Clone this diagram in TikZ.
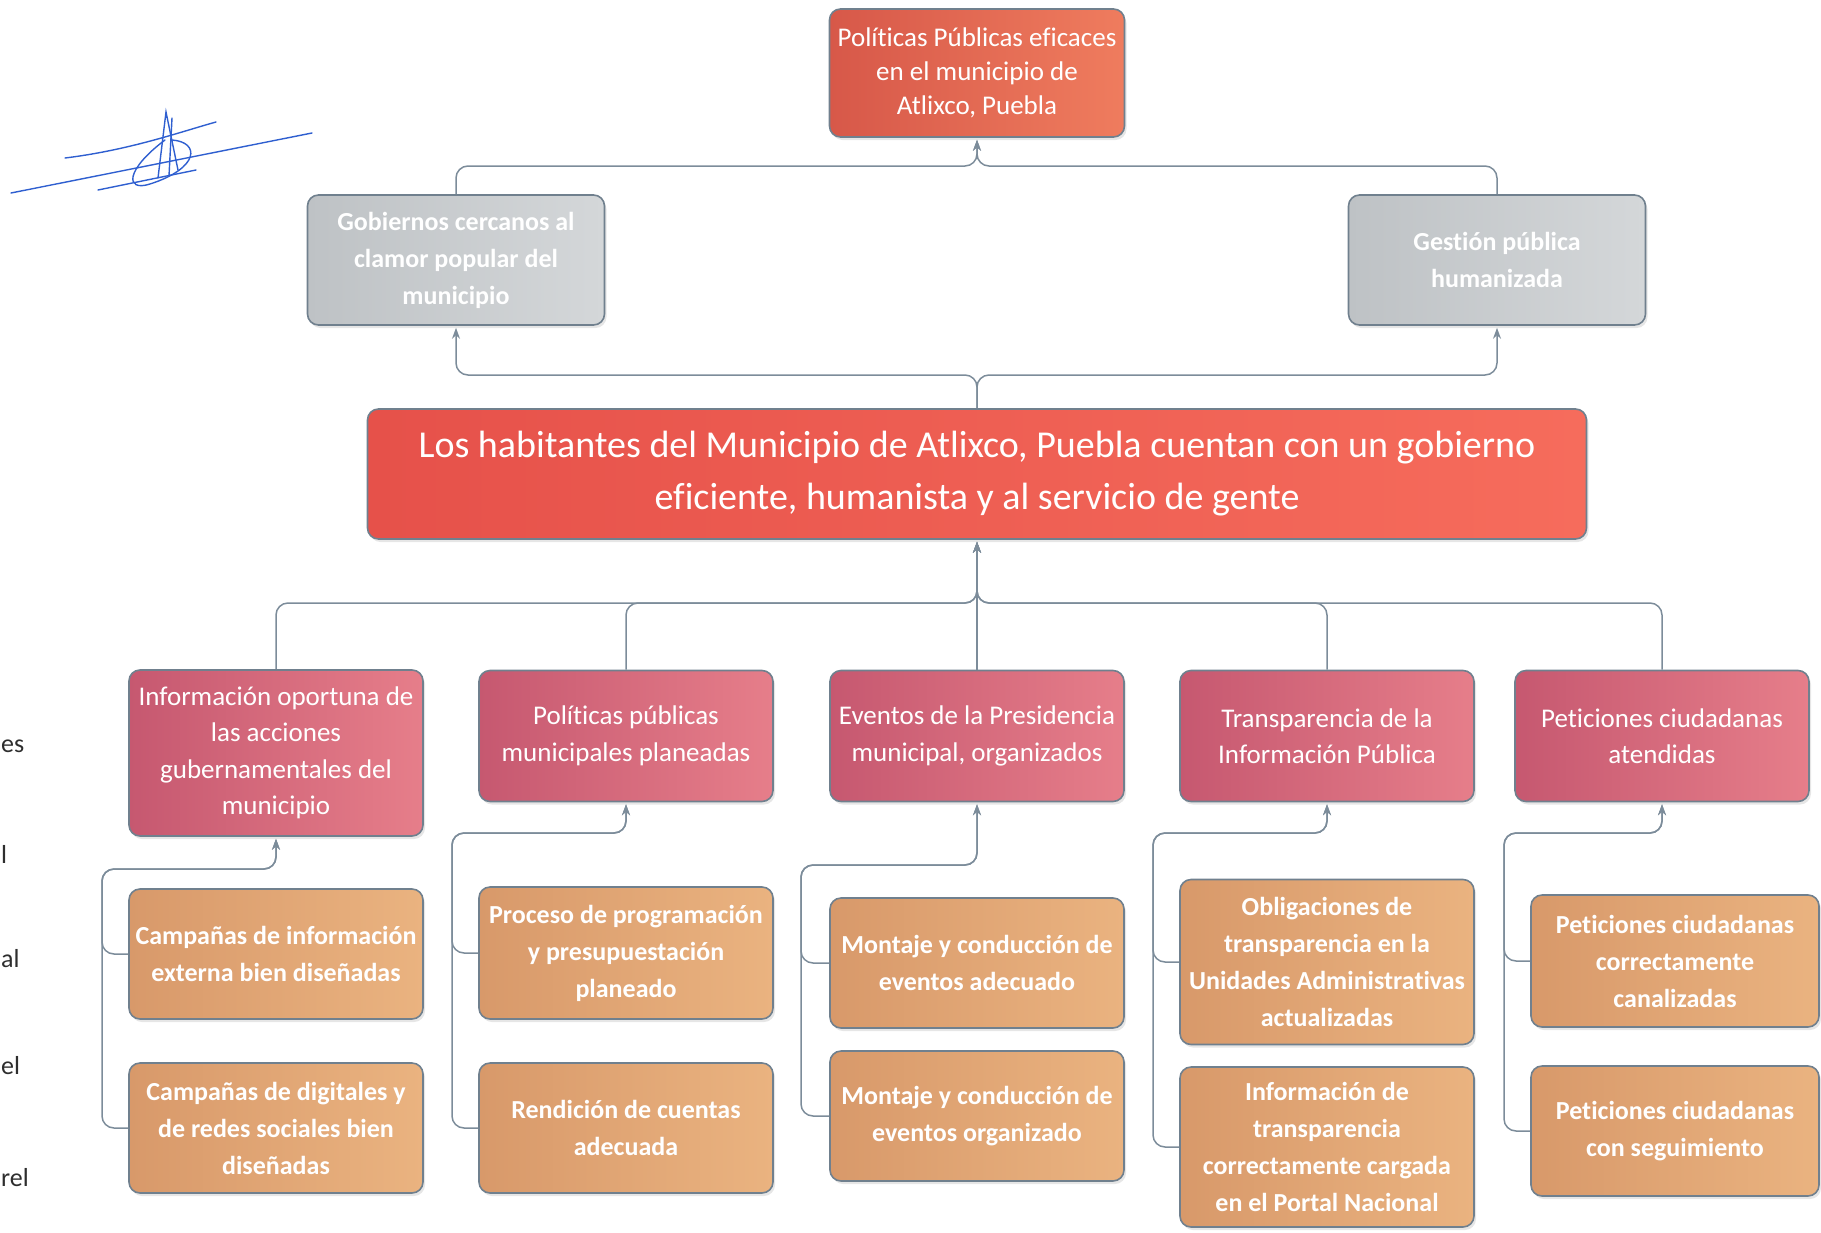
\documentclass[tikz,border=0pt]{standalone}
\usepackage{fontspec}
\setmainfont{Carlito}[Ligatures=NoCommon]
\usepackage{tikz}
\usetikzlibrary{shapes,arrows,arrows.meta,positioning,shadows,calc}

\definecolor{boxedge}{HTML}{70808E}
\definecolor{lineblue}{HTML}{7C8C9A}
\definecolor{topl}{HTML}{D75849}
\definecolor{topr}{HTML}{EF7C5E}
\definecolor{grayl}{HTML}{BEC2C5}
\definecolor{grayr}{HTML}{D4D7D9}
\definecolor{mainl}{HTML}{E6514A}
\definecolor{mainr}{HTML}{F66C5C}
\definecolor{pinkl}{HTML}{C65870}
\definecolor{pinkr}{HTML}{E67E8A}
\definecolor{tanl}{HTML}{D8996A}
\definecolor{tanr}{HTML}{EAB380}
\definecolor{sigblue}{HTML}{2F5FD0}
\definecolor{margintext}{HTML}{2E2E2E}

\begin{document}
\begin{tikzpicture}[
			x=1pt, y=-1pt,
			box/.style={rectangle, draw=boxedge, line width=1.6pt, rounded corners=11pt, align=center, text=white, inner sep=2pt, drop shadow={shadow xshift=2pt, shadow yshift=-3pt, opacity=0.2}},
			finbox/.style={box, left color=topl, right color=topr, minimum width=295pt, minimum height=128pt, font=\fontsize{27}{34}\selectfont},
			effectbox/.style={box, left color=grayl, right color=grayr, minimum width=297pt, minimum height=130pt, font=\bfseries\fontsize{26}{37}\selectfont},
			purposebox/.style={box, left color=mainl, right color=mainr, minimum width=1219pt, minimum height=130pt, font=\fontsize{38}{52}\selectfont},
			compbox/.style={box, left color=pinkl, right color=pinkr, minimum width=294pt, minimum height=131pt, font=\fontsize{27}{36.5}\selectfont},
			actbox/.style={box, left color=tanl, right color=tanr, minimum width=294pt, minimum height=130pt, font=\bfseries\fontsize{26}{37}\selectfont},
			conn/.style={draw=lineblue, line width=1.5pt, rounded corners=12pt, -{Stealth[length=11pt,width=8pt]}, shorten >=2pt},
			margin/.style={inner sep=0pt, anchor=west, text=margintext, font=\fontsize{26}{32}\selectfont},
			sig/.style={draw=sigblue, line width=1.4pt, line cap=round}
			]
			
			\useasboundingbox (0,0) rectangle (1821,1232);
			
			% Fin
			\node[finbox] (fin) at (977,73) {Políticas Públicas eficaces\\en el municipio de\\Atlixco, Puebla};
			
			% Efectos
			\node[effectbox] (gob) at (456,260) {Gobiernos cercanos al\\clamor popular del\\municipio};
			\node[effectbox] (gest) at (1497,260) {Gestión pública\\humanizada};
			
			% Proposito
			\node[purposebox] (prop) at (977,474) {Los habitantes del Municipio de Atlixco, Puebla cuentan con un gobierno\\eficiente, humanista y al servicio de gente};
			
			% Componentes
			\node[compbox, minimum height=166pt] (comp1) at (276,753) {Información oportuna de\\las acciones\\gubernamentales del\\municipio};
			\node[compbox] (comp2) at (626,736) {Políticas públicas\\municipales planeadas};
			\node[compbox] (comp3) at (977,736) {Eventos de la Presidencia\\municipal, organizados};
			\node[compbox] (comp4) at (1327,736) {Transparencia de la\\Información Pública};
			\node[compbox] (comp5) at (1662,736) {Peticiones ciudadanas\\atendidas};
			
			% Actividades
			\node[actbox] (act1a) at (276,954) {Campañas de información\\externa bien diseñadas};
			\node[actbox] (act1b) at (276,1128) {Campañas de digitales y\\de redes sociales bien\\diseñadas};
			\node[actbox, minimum height=132pt] (act2a) at (626,953) {Proceso de programación\\y presupuestación\\planeado};
			\node[actbox] (act2b) at (626,1128) {Rendición de cuentas\\adecuada};
			\node[actbox] (act3a) at (977,963) {Montaje y conducción de\\eventos adecuado};
			\node[actbox] (act3b) at (977,1116) {Montaje y conducción de\\eventos organizado};
			\node[actbox, minimum height=165pt] (act4a) at (1327,962) {Obligaciones de\\transparencia en la\\Unidades Administrativas\\actualizadas};
			\node[actbox, minimum height=160pt] (act4b) at (1327,1147) {Información de\\transparencia\\correctamente cargada\\en el Portal Nacional};
			\node[actbox, minimum width=288pt, minimum height=132pt] (act5a) at (1675,961) {Peticiones ciudadanas\\correctamente\\canalizadas};
			\node[actbox, minimum width=288pt] (act5b) at (1675,1131) {Peticiones ciudadanas\\con seguimiento};
			
			% Junctions
			\coordinate (jfin) at (977,166);
			\coordinate (jprop) at (977,375);
			\coordinate (jcomp) at (977,603);
			\coordinate (k1) at (102,869);
			\coordinate (k2) at (452,833);
			\coordinate (k3) at (801,865);
			\coordinate (k4) at (1153,833);
			\coordinate (k5) at (1504,833);
			
			% Efectos -> fin
			\draw[conn] (gob.north) |- (jfin) -- (fin.south);
			\draw[conn] (gest.north) |- (jfin) -- (fin.south);
			
			% Proposito -> efectos
			\draw[conn] (prop.north) -- (jprop) -| (gob.south);
			\draw[conn] (prop.north) -- (jprop) -| (gest.south);
			
			% Componentes -> proposito
			\draw[conn] (comp1.north) |- (jcomp) -- (prop.south);
			\draw[conn] (comp2.north) |- (jcomp) -- (prop.south);
			\draw[conn] (comp3.north) -- (prop.south);
			\draw[conn] (comp4.north) |- (jcomp) -- (prop.south);
			\draw[conn] (comp5.north) |- (jcomp) -- (prop.south);
			
			% Actividades -> componentes
			\draw[conn] (act1a.west) -| (k1) -| (comp1.south);
			\draw[conn] (act1b.west) -| (k1) -| (comp1.south);
			\draw[conn] (act2a.west) -| (k2) -| (comp2.south);
			\draw[conn] (act2b.west) -| (k2) -| (comp2.south);
			\draw[conn] (act3a.west) -| (k3) -| (comp3.south);
			\draw[conn] (act3b.west) -| (k3) -| (comp3.south);
			\draw[conn] (act4a.west) -| (k4) -| (comp4.south);
			\draw[conn] (act4b.west) -| (k4) -| (comp4.south);
			\draw[conn] (act5a.west) -| (k5) -| (comp5.south);
			\draw[conn] (act5b.west) -| (k5) -| (comp5.south);
			
			% Margin (cut text)
			\node[margin] (m1) at (1,746) {es};
			\node[margin] (m2) at (1,854) {l};
			\node[margin] (m3) at (1,959) {al};
			\node[margin] (m4) at (1,1066) {el};
			\node[margin] (m5) at (1,1178) {rel};
			
			% Firma
			\draw[sig] (11,193) -- (312,133);
			\draw[sig] (65,158) .. controls (130,150) and (180,132) .. (216,122);
			\draw[sig] (98,190) -- (196,170);
			\draw[sig] (158,178) -- (166,112) -- (178,170);
			\draw[sig] (172,118) -- (169,176);
			\draw[sig] (165,140) .. controls (125,170) and (125,192) .. (150,184) .. controls (200,168) and (200,142) .. (172,140);
			
		\end{tikzpicture}
\end{document}
